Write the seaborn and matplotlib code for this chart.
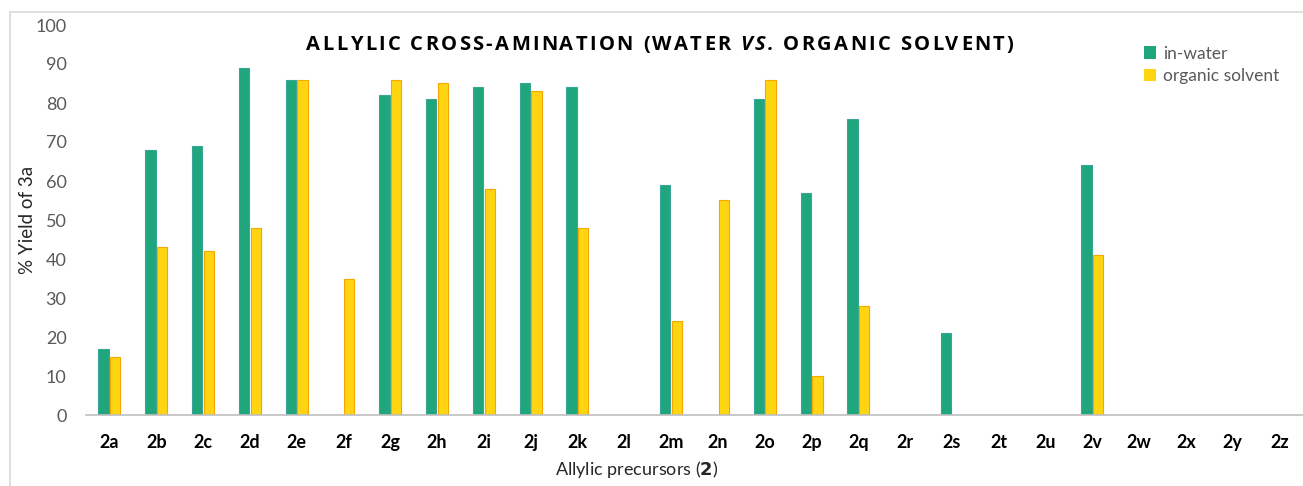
import numpy as np
import pandas as pd
import matplotlib
matplotlib.use("Agg")
import matplotlib.pyplot as plt
import seaborn as sns
from matplotlib.lines import Line2D

# Data
precursors = ["2a", "2b", "2c", "2d", "2e", "2f", "2g", "2h", "2i", "2j", "2k", "2l", "2m",
              "2n", "2o", "2p", "2q", "2r", "2s", "2t", "2u", "2v", "2w", "2x", "2y", "2z"]
in_water = [17, 68, 69, 89, 86, 0, 82, 81, 84, 85, 84, 0, 59,
            0, 81, 57, 76, 0, 21, 0, 0, 64, 0, 0, 0, 0]
organic = [15, 43, 42, 48, 86, 35, 86, 85, 58, 83, 48, 0, 24,
           55, 86, 10, 28, 0, 0, 0, 0, 41, 0, 0, 0, 0]
series = ["in-water", "organic solvent"]
y_ticks = list(range(0, 101, 10))

df = pd.DataFrame({
    "precursor": precursors * 2,
    "yield": in_water + organic,
    "solvent": [series[0]] * len(precursors) + [series[1]] * len(precursors),
})

green = "#1FA67C"
yellow = "#FFD512"
edge_colors = ["#3AA596", "#F6A800"]
gray_text = "#595959"
axis_gray = "#BFBFBF"

sns.set_theme(style="white")
plt.rcParams["font.family"] = ["Lato", "DejaVu Sans"]

fig = plt.figure(figsize=(13.03, 4.86), dpi=100)
ax = fig.add_axes([86 / 1303, 1 - 415 / 486, 1 - 86 / 1303, (415 - 25) / 486])

sns.barplot(data=df, x="precursor", y="yield", hue="solvent", palette=[green, yellow],
            width=0.5, gap=0.12, ax=ax, saturation=1)

for cont, ec in zip(ax.containers, edge_colors):
    for bar in cont:
        if bar.get_height() > 0:
            bar.set_edgecolor(ec)
            bar.set_linewidth(0.8)
        else:
            bar.set_linewidth(0)

ax.set_ylim(0, 100)
ax.set_xlim(-0.5, 25.26)
ax.set_yticks(y_ticks)
ax.tick_params(axis="y", length=0, pad=14, labelsize=13, labelcolor=gray_text)
ax.tick_params(axis="x", which="major", length=0, pad=14, labelsize=13)
for lbl in ax.get_xticklabels():
    lbl.set_fontweight("bold")
    lbl.set_color("black")
ax.set_xticks(np.arange(-0.5, 26, 1), minor=True)
ax.tick_params(axis="x", which="minor", length=6, width=1, color=axis_gray, direction="out")

for side in ["left", "top", "right"]:
    ax.spines[side].set_visible(False)
ax.spines["bottom"].set_color(axis_gray)
ax.spines["bottom"].set_linewidth(1.2)
ax.grid(False)

ax.set_ylabel("% Yield of 3a", fontsize=13.5, color="#262626")
ax.yaxis.set_label_coords(-50 / 1217, 0.5)
ax.set_xlabel("Allylic precursors ($\\mathbf{2}$)", fontsize=13, color="#262626")
ax.xaxis.set_label_coords((637 - 86) / 1217, -44 / 390)

leg = ax.legend(loc="upper left", bbox_to_anchor=(1128 / 1303, 1 - 30 / 486),
                bbox_transform=fig.transFigure, frameon=False, fontsize=12.5,
                handlelength=0.7, handleheight=0.7, handletextpad=0.4, labelspacing=0.35)
for t in leg.get_texts():
    t.set_color(gray_text)
for h in leg.legend_handles:
    h.set_linewidth(0)

# Title drawn letter by letter to get the wide tracking; "VS." is italic
title = "ALLYLIC CROSS-AMINATION (WATER VS. ORGANIC SOLVENT)"
italic_start = title.index("VS.")
italic_end = italic_start + 3
tracking = 2.3  # px between letters
fig.canvas.draw()
renderer = fig.canvas.get_renderer()
title_kw = dict(fontsize=14.5, fontweight="bold", family=["Open Sans", "DejaVu Sans"],
                va="center", ha="left", color="black")
probe = fig.text(0, 0, "M M", **title_kw)
w_mm = probe.get_window_extent(renderer).width
probe.set_text("MM")
space_w = w_mm - probe.get_window_extent(renderer).width
probe.remove()

letters = []
x_px = 0.0
for i, ch in enumerate(title):
    style = "italic" if italic_start <= i < italic_end else "normal"
    if ch == " ":
        x_px += space_w + tracking
        continue
    t = fig.text(0, 1 - 45 / 486, ch, fontstyle=style, **title_kw)
    letters.append((t, x_px))
    x_px += t.get_window_extent(renderer).width + tracking
total_px = x_px - tracking
start_px = 660 - total_px / 2
for t, off in letters:
    t.set_x((start_px + off) / 1303)

# light border round the chart area
fig.add_artist(Line2D([10 / 1303, 10 / 1303], [0.0, 1 - 12 / 486],
                      transform=fig.transFigure, color="#D9D9D9", lw=1.2))
fig.add_artist(Line2D([10 / 1303, 1.0], [1 - 12 / 486, 1 - 12 / 486],
                      transform=fig.transFigure, color="#D9D9D9", lw=1.2))

fig.savefig("out.png", dpi=100)
